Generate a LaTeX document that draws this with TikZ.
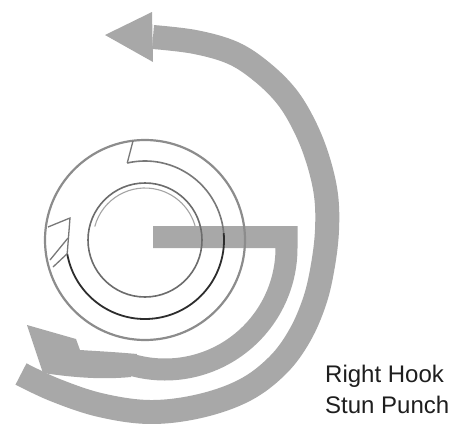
\documentclass[tikz,border=0pt]{standalone}
\usepackage{fontspec}
\setmainfont{Liberation Sans}
\definecolor{bandgray}{RGB}{168,168,168}
\definecolor{ringdark}{RGB}{45,45,45}
\definecolor{ringmid}{RGB}{120,120,120}
\definecolor{ringlight}{RGB}{165,165,165}
\definecolor{txt}{RGB}{30,30,30}
\tikzset{
  bandA/.style={draw=bandgray, line width=22pt, line cap=butt, line join=miter},
  bandB/.style={draw=bandgray, line width=24pt, line cap=butt},
  headfill/.style={fill=bandgray},
  outerring/.style={draw=ringmid!85, line width=2.2pt},
  darkring/.style={draw=ringdark, line width=1.8pt},
  midring/.style={draw=ringmid, line width=1.6pt},
  innerring/.style={draw=ringmid!90!black, line width=1.6pt},
  faintring/.style={draw=ringlight, line width=1.1pt},
  sketchline/.style={draw=ringmid, line width=1.3pt},
  lbl/.style={text=txt, font=\fontsize{24}{28}\selectfont, anchor=base west, inner sep=0pt}
}
\begin{document}
\begin{tikzpicture}[x=1pt,y=-1pt]
\useasboundingbox (0,0) rectangle (452,423);
\fill[white] (0,0) rectangle (452,423);
\coordinate (C) at (145,240);

% thick gray outer arrow (B)
\draw[bandB] plot[smooth, tension=0.6] coordinates {(21,374) (55,390) (100,405) (150,412) (200,406) (245,390) (278,365) (300,335) (315,300) (323,265) (327,230) (326,195) (318,160) (305,127) (287,97) (262,72) (233,53) (195,42) (153,37)};
\fill[headfill] (105,35) -- (152,12) -- (153,62) -- cycle;

% G-shaped arrow (A)
\draw[bandA] (153,237) -- (286.5,237) -- (286.5,248) arc[start angle=0,end angle=106,radius=121.5];
\fill[headfill] (137,354) .. controls (115,352) and (95,351) .. (80,350) -- (76,339) -- (27,325) -- (43,373)
   .. controls (70,377) and (100,380) .. (131,377) -- cycle;

% circles
\draw[outerring] (C) circle[radius=100];
\draw[innerring] (C) circle[radius=57];
\draw[faintring] ([shift={(C)}]-165:52) arc[start angle=-165,end angle=-15,radius=52];
\draw[darkring] ([shift={(C)}]170:79) arc[start angle=170,end angle=-5,radius=79];
\draw[midring] ([shift={(C)}]-5:79) arc[start angle=-5,end angle=-103,radius=79];

% notch and small hollow arrowhead
\draw[sketchline] ([shift={(C)}]-103:79) -- (133,141);
\draw[sketchline] (48,227) -- (70,218) -- ([shift={(C)}]170:79);
\draw[sketchline] (50,260) -- (68,238);
\draw[sketchline] (53,267) -- ([shift={(C)}]170:79);

% labels
\node[lbl] (rh) at (325,382) {Right Hook};
\node[lbl] (sp) at (325,413) {Stun Punch};
\end{tikzpicture}
\end{document}
